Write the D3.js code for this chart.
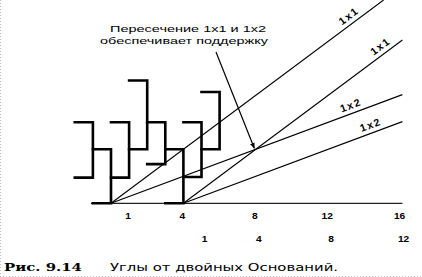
<!DOCTYPE html>
<html>
<head>
<meta charset="utf-8">
<script src="https://cdn.jsdelivr.net/npm/d3@7"></script>
<style>
  body { margin: 0; background: #fff; }
  svg { display: block; }
</style>
</head>
<body>
<svg id="chart" width="422" height="277"></svg>
<script>
// bars: time position, low and high (price units)
const barTimes = [-1, 0, 1, 2, 3, 4, 5, 6];
const barLows  = [1.9, 0, 1.9, 4, 2.9, 0, 1.95, 4];
const barHighs = [6, 4, 6, 9.1, 6, 4, 6, 8.25];

// gann angles from the two bottoms
const angleStarts = [0, 4, 0, 4];
const angleRatios = [1, 1, 0.5, 0.5];
const angleNames  = ["1x1", "1x1", "1x2", "1x2"];
const angleLabelAt = [13.4, 15.15, 13.4, 14.5];
const angleEnd = 16.1;

// tick labels: counted from first bottom, then from second bottom
const ticksRow1 = [1, 4, 8, 12, 16];
const ticksRow2 = [1, 4, 8, 12];
const secondBase = 4;

const noteLines = ["Пересечение 1x1 и 1x2", "обеспечивает поддержку"];
const captionNum = "Рис. 9.14";
const captionText = "Углы от двойных Оснований.";

const svg = d3.select("#chart");

const x = d3.scaleLinear().domain([0, 16]).range([111, 111 + 16 * 18.1]);
const y = d3.scaleLinear().domain([0, 4]).range([203.3, 149.3]);
const step = x(1) - x(0);
const yMax = y.invert(0);

// scan frame (dotted)
svg.append("line").attr("x1", 0.5).attr("x2", 0.5).attr("y1", 0).attr("y2", 277)
    .attr("stroke", "#bbb").attr("stroke-dasharray", "1,2");
svg.append("line").attr("x1", 0).attr("x2", 422).attr("y1", 276.5).attr("y2", 276.5)
    .attr("stroke", "#bbb").attr("stroke-dasharray", "1,2");

// baseline
svg.append("line")
    .attr("x1", x(-1) - 2).attr("x2", x(angleEnd))
    .attr("y1", y(0)).attr("y2", y(0))
    .attr("stroke", "#222").attr("stroke-width", 1.3);

// bars drawn as "]" : tick left at high and at low
svg.selectAll(".bar")
    .data(barTimes)
    .enter().append("path")
    .attr("class", "bar")
    .attr("d", (t, i) => {
        const xr = x(t), xl = x(t - 1);
        return "M" + xl + "," + y(barHighs[i]) + "H" + xr + "V" + y(barLows[i]) + "H" + xl;
    })
    .attr("fill", "none")
    .attr("stroke", "#000")
    .attr("stroke-width", 2.6)
    .attr("stroke-linecap", "square");

// angle lines
angleStarts.forEach((s, i) => {
    const r = angleRatios[i];
    const e = Math.min(angleEnd, s + yMax / r);
    svg.append("line")
        .attr("x1", x(s)).attr("y1", y(0))
        .attr("x2", x(e)).attr("y2", y((e - s) * r))
        .attr("stroke", "#000").attr("stroke-width", 1.1);

    const u = angleLabelAt[i];
    const ang = Math.atan2(y(0) - y(r), step) * 180 / Math.PI;
    svg.append("text")
        .attr("transform", "translate(" + x(u) + "," + y((u - s) * r) + ") rotate(" + (-ang) + ")")
        .attr("y", -4.5)
        .attr("text-anchor", "middle")
        .style("font-family", "Liberation Sans, Arial, sans-serif")
        .style("font-size", "10.5px")
        .style("font-weight", "bold")
        .style("letter-spacing", "1.5px")
        .text(angleNames[i]);
});

// arrow to the crossing of 1x2 (first base) and 1x1 (second base)
const crossT = (secondBase * angleRatios[0]) / (angleRatios[0] - angleRatios[2]);
const crossP = crossT * angleRatios[2];
svg.append("defs").append("marker")
    .attr("id", "head").attr("viewBox", "0 0 10 10")
    .attr("refX", 9).attr("refY", 5)
    .attr("markerWidth", 5).attr("markerHeight", 5)
    .attr("orient", "auto")
    .append("path").attr("d", "M0,1L10,5L0,9Z").attr("fill", "#000");
svg.append("line")
    .attr("x1", 216).attr("y1", 52)
    .attr("x2", x(crossT) - 1.5).attr("y2", y(crossP) - 1)
    .attr("stroke", "#000").attr("stroke-width", 1.2)
    .attr("marker-end", "url(#head)");

// note text
const noteX = [110, 100], noteY = [32.3, 43.8], noteW = [156, 168];
noteLines.forEach((t, i) => {
    svg.append("text")
        .attr("x", noteX[i]).attr("y", noteY[i])
        .attr("textLength", noteW[i]).attr("lengthAdjust", "spacingAndGlyphs")
        .style("font-family", "Liberation Sans, Arial, sans-serif")
        .style("font-size", "9.8px")
        .text(t);
});

// tick labels
function tickRow(vals, base, yy, dx) {
    svg.selectAll(null)
        .data(vals)
        .enter().append("text")
        .attr("transform", d => "translate(" + (x(base + d) + dx) + "," + yy + ") scale(1.2,1)")
        .attr("text-anchor", "middle")
        .style("font-family", "Liberation Sans, Arial, sans-serif")
        .style("font-size", "8.5px")
        .style("font-weight", "bold")
        .text(d => d);
}
tickRow(ticksRow1, 0, 219, -1);
tickRow(ticksRow2, secondBase, 241.5, 3);

// caption
svg.append("text")
    .attr("x", 4).attr("y", 270.5)
    .attr("textLength", 78).attr("lengthAdjust", "spacingAndGlyphs")
    .style("font-family", "DejaVu Serif, serif")
    .style("font-size", "10.5px")
    .style("font-weight", "bold")
    .text(captionNum);
svg.append("text")
    .attr("x", 110).attr("y", 270.5)
    .attr("textLength", 228).attr("lengthAdjust", "spacingAndGlyphs")
    .style("font-family", "DejaVu Sans, sans-serif")
    .style("font-size", "10px")
    .text(captionText);
</script>
</body>
</html>
